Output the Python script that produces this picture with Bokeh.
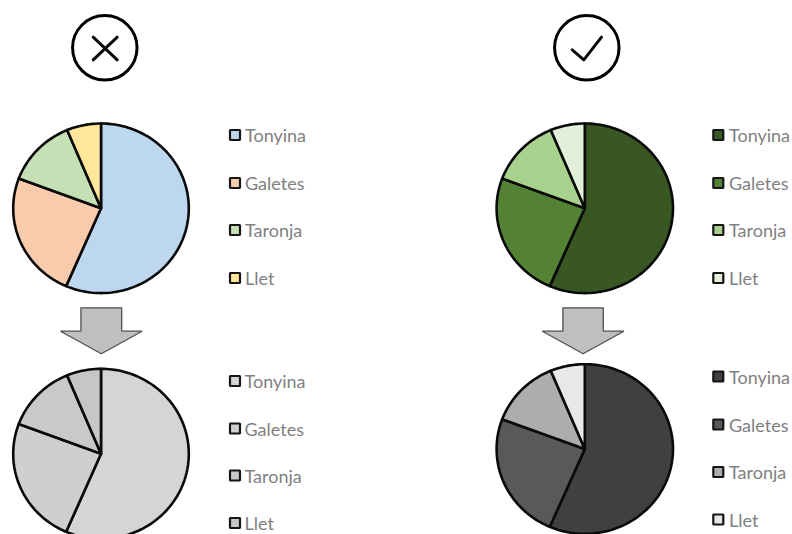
import math
from bokeh.plotting import figure
from bokeh.models import Range1d
from bokeh.core.properties import value
from bokeh.embed import file_html
from bokeh.resources import INLINE

categories = ["Tonyina", "Galetes", "Taronja", "Llet"]
shares = [56.5, 24.2, 13.0, 6.3]
colors_bad = ["#BDD7EE", "#F8CBAD", "#C5E0B4", "#FFE699"]
colors_bad_gray = ["#D5D5D5", "#CFCFCF", "#C9C9C9", "#C6C6C6"]
colors_good = ["#385723", "#548235", "#A9D18E", "#E2F0D9"]
colors_good_gray = ["#404040", "#595959", "#ADADAD", "#E8E8E8"]

panels = [
    dict(cx=100.5, cy=207.8, rx=87.8, ry=84.8, colors=colors_bad,
         mx=234.5, tx=244.5, ly=[134.5, 182.5, 229.5, 277.5]),
    dict(cx=584.3, cy=207.8, rx=88.2, ry=84.8, colors=colors_good,
         mx=717.8, tx=728.5, ly=[134.5, 182.5, 229.5, 277.5]),
    dict(cx=100.5, cy=453.3, rx=87.8, ry=85, colors=colors_bad_gray,
         mx=234.5, tx=244, ly=[380.5, 428, 475, 522.5]),
    dict(cx=584.3, cy=448.5, rx=88.2, ry=84.8, colors=colors_good_gray,
         mx=717.8, tx=728.5, ly=[376, 424, 471.5, 519]),
]

p = figure(width=792, height=534, output_backend="svg", toolbar_location=None,
           x_range=Range1d(0, 792), y_range=Range1d(534, 0),
           x_axis_type=None, y_axis_type=None, min_border=0)
p.grid.visible = False
p.outline_line_color = None
p.background_fill_color = "white"
p.border_fill_color = "white"
p.styles = {"position": "absolute", "left": "0px", "top": "0px"}

total = sum(shares)
for panel in panels:
    start = 0.0
    xs, ys = [], []
    for s in shares:
        end = start + s / total * 2 * math.pi
        n = max(2, int(s * 2))
        angles = [start + (end - start) * i / n for i in range(n + 1)]
        xs.append([panel["cx"]] + [panel["cx"] + panel["rx"] * math.sin(a) for a in angles])
        ys.append([panel["cy"]] + [panel["cy"] - panel["ry"] * math.cos(a) for a in angles])
        start = end
    p.patches(xs, ys, fill_color=panel["colors"], line_color="#0A0A0A",
              line_width=2.6, line_join="round")
    p.scatter([panel["mx"]] * 4, panel["ly"], marker="square", size=10,
              fill_color=panel["colors"], line_color="#151515", line_width=2.2)
    p.text([panel["tx"]] * 4, panel["ly"], text=categories, text_color="#7F7F7F",
           text_font=value("Lato"), text_font_size="18px",
           text_align="left", text_baseline="middle")

# verdict icons
p.ellipse([104.3, 586.3], [47.3, 47.3], width=64.5, height=64.5, fill_color=None,
          line_color="black", line_width=3)
p.multi_line([[92.7, 116.7], [116.7, 92.7]], [[36.7, 59.3], [36.7, 59.3]],
             line_color="#0A0A0A", line_width=3, line_cap="round")
p.line([571.7, 583.3, 601], [49.3, 59.3, 36.7], line_color="#0A0A0A",
       line_width=3, line_cap="round", line_join="round")

# arrows
for ax, bw, hw in [(100.8, 20.4, 40.8), (582.6, 20.2, 40.8)]:
    p.patch([ax - bw, ax + bw, ax + bw, ax + hw, ax, ax - hw, ax - bw],
            [307.3, 307.3, 330.7, 330.7, 353.3, 330.7, 330.7],
            fill_color="#BFBFBF", line_color="#505050", line_width=1.3)

open("out.html", "w").write(file_html(p, INLINE))
